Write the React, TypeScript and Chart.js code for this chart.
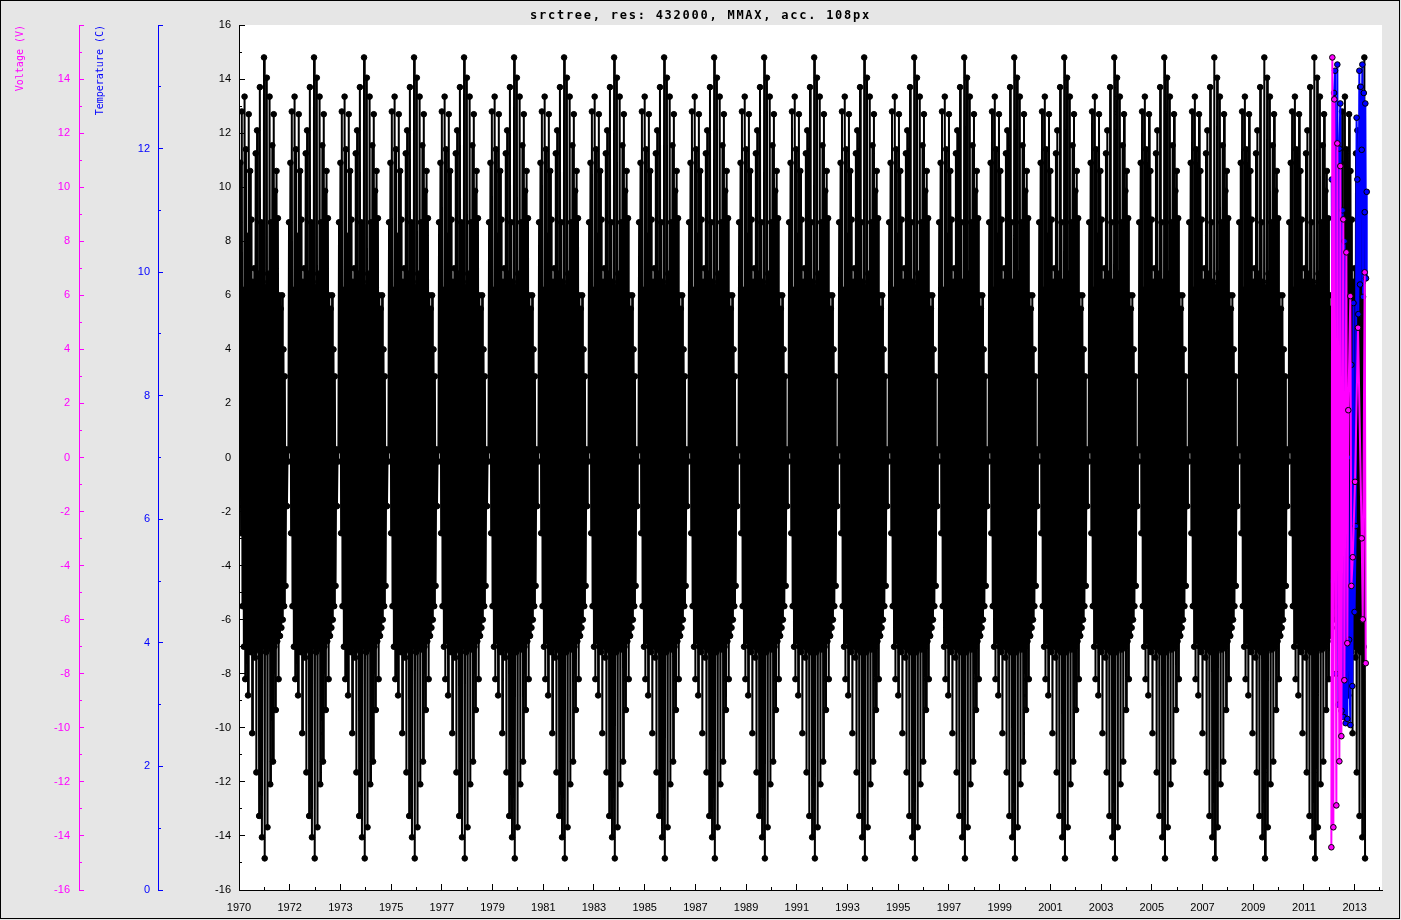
import React, { useEffect, useRef } from 'react';
import { Chart, registerables } from 'chart.js';

Chart.register(...registerables);

// ---------- data ----------
const yearLabels = ['1970', '1972', '1973', '1975', '1977', '1979', '1981', '1983', '1985', '1987', '1989', '1991', '1993', '1995', '1997', '1999', '2001', '2003', '2005', '2007', '2009', '2011', '2013'];
const TICK_DAYS = 730;
const X_MAX_DAYS = 16454;
const SAMPLE_DAYS = 10;
const CYCLE_COUNT = 23;
const LAST_CYCLE_SAMPLES = 38;

// one repeating cycle of the black (main axis) series
const blackCycle = [
  8.7, 0.27, 10.9, -2.8, 12.8, -5.5, 6.2, -7.0, 13.35, -8.2,
  11.4, -6.8, 8.2, -8.8, 12.7, -7.0, 10.6, -7.2, 8.8, -10.2,
  6.5, -7.0, 7.0, -7.4, 11.25, -11.65, 12.1, -7.1, 6.8, -13.26,
  13.7, -7.2, 8.7, -14.05, 6.5, -7.0, 14.8, -14.83, 6.3, -7.2,
  14.05, -13.68, 6.8, -7.0, 13.35, -12.09, 8.7, -7.1, 11.55, -11.25,
  12.7, -7.0, 9.86, -9.34, 10.6, -6.8, 8.85, -8.2, 6.0, -6.6,
  5.5, -6.3, 6.0, -6.0, 4.0, -5.5, 3.0, -4.75, 0.3, -1.8,
  0.28, -0.15,
];

const voltageDays = [15725, 15739, 15754, 15768, 15797, 15811, 15840, 15854, 15869, 15897, 15912, 15941, 15955, 15969, 15998, 16013, 16033, 16066, 16109, 16162, 16177, 16205, 16220];
const voltageValues = [-14.42, 14.8, -13.68, 13.25, -12.87, 11.62, -11.24, 10.78, -10.31, 8.81, -8.24, 7.59, -6.87, 1.75, 5.97, -4.75, -3.69, -0.9, 4.8, -2.99, -5.99, 6.85, -7.61];

const tempDays = [15731, 15749, 15764, 15778, 15792, 15811, 15826, 15840, 15854, 15872, 15886, 15901, 15915, 15930, 15941, 15955, 15968, 15980, 15998, 16013, 16027, 16044, 16059, 16076, 16088, 16099, 16113, 16128, 16138, 16148, 16162, 16171, 16181, 16192, 16205, 16214, 16224, 16234];
const tempValues = [11.5, 5.0, 12.9, 13.26, 3.5, 13.36, 3.0, 12.0, 12.73, 2.9, 11.0, 2.8, 10.5, 2.7, 8.0, 2.77, 7.0, 4.05, 2.67, 8.5, 3.3, 9.5, 4.5, 5.89, 12.5, 11.5, 9.32, 13.26, 9.8, 13.0, 11.98, 13.36, 9.6, 12.9, 10.97, 12.73, 9.9, 11.3];

const TITLE = 'srctree, res: 432000, MMAX, acc. 108px';
const MAGENTA = '#ff00ff';
const BLUE = '#0000ff';
const SANS = "'Liberation Sans', Arial, sans-serif";
const MONO = "'DejaVu Sans Mono', monospace";

const tickSpecs = [
  { id: 'x', step: 365, major: 730, color: '#000', majorLen: 6, minorLen: 3 },
  { id: 'y', step: 1, major: 2, color: '#000', majorLen: 6, minorLen: 3 },
  { id: 'yV', step: 1, major: 2, color: MAGENTA, majorLen: 5, minorLen: 3 },
  { id: 'yT', step: 1, major: 2, color: BLUE, majorLen: 5, minorLen: 3 },
];

const framePlugin = {
  id: 'frame',
  beforeDraw(chart: any) {
    const { ctx, width, height, chartArea } = chart;
    ctx.save();
    ctx.fillStyle = '#e6e6e6';
    ctx.fillRect(0, 0, width, height);
    ctx.fillStyle = '#ffffff';
    ctx.fillRect(chartArea.left, chartArea.top, chartArea.right - chartArea.left, chartArea.bottom - chartArea.top);
    ctx.restore();
  },
  afterDatasetsDraw(chart: any) {
    const { ctx } = chart;
    ctx.save();
    for (const spec of tickSpecs) {
      const scale = chart.scales[spec.id];
      if (!scale) continue;
      ctx.fillStyle = spec.color;
      const eps = 1e-6;
      for (let v = scale.min; v <= scale.max + eps; v += spec.step) {
        const r = ((v - scale.min) % spec.major + spec.major) % spec.major;
        const isMajor = r < eps || spec.major - r < eps;
        const len = isMajor ? spec.majorLen : spec.minorLen;
        const p = scale.getPixelForValue(v);
        if (scale.isHorizontal()) {
          const y0 = Math.floor(scale.top);
          ctx.fillRect(Math.floor(p), y0 - len, 1, len);
        } else {
          const x0 = Math.floor(scale.right);
          ctx.fillRect(x0, Math.min(Math.floor(p), Math.floor(scale.bottom)), len, 1);
        }
      }
    }
    ctx.restore();
  },
  afterDraw(chart: any) {
    const { ctx, width, height } = chart;
    ctx.save();
    ctx.fillStyle = '#000';
    ctx.font = `bold 12px ${MONO}`;
    (ctx as any).letterSpacing = '1.75px';
    ctx.textAlign = 'center';
    ctx.textBaseline = 'alphabetic';
    ctx.fillText(TITLE, width / 2, 19);
    (ctx as any).letterSpacing = '0px';
    ctx.strokeStyle = '#000';
    ctx.lineWidth = 1;
    ctx.strokeRect(0.5, 0.5, width - 2, height - 2);
    ctx.restore();
  },
};

function fixWidth(w: number) {
  return (scale: any) => {
    scale.width = w;
  };
}

export default function App() {
  const ref = useRef<HTMLCanvasElement | null>(null);

  useEffect(() => {
    if (!ref.current) return;
    const blackData: { x: number; y: number }[] = [];
    for (let c = 0; c < CYCLE_COUNT; c++) {
      const n = c === CYCLE_COUNT - 1 ? LAST_CYCLE_SAMPLES : blackCycle.length;
      for (let i = 0; i < n; i++) {
        blackData.push({ x: (c * blackCycle.length + i) * SAMPLE_DAYS, y: blackCycle[i] });
      }
    }
    const voltageData = voltageDays.map((d, i) => ({ x: d, y: voltageValues[i] }));
    const tempData = tempDays.map((d, i) => ({ x: d, y: tempValues[i] }));

    const chart = new Chart(ref.current, {
      type: 'line',
      data: {
        datasets: [
          {
            label: 'Voltage (V)',
            data: voltageData,
            yAxisID: 'yV',
            borderColor: MAGENTA,
            backgroundColor: MAGENTA,
            borderWidth: 2,
            pointRadius: 2.8,
            pointBackgroundColor: MAGENTA,
            pointBorderColor: '#000',
            pointBorderWidth: 1,
            tension: 0,
          },
          {
            label: 'Temperature (C)',
            data: tempData,
            yAxisID: 'yT',
            borderColor: BLUE,
            backgroundColor: BLUE,
            borderWidth: 2,
            pointRadius: 2.8,
            pointBackgroundColor: BLUE,
            pointBorderColor: '#000',
            pointBorderWidth: 1,
            tension: 0,
          },
          {
            label: 'srctree',
            data: blackData,
            yAxisID: 'y',
            borderColor: '#000',
            backgroundColor: '#000',
            borderWidth: 2,
            pointRadius: 2.8,
            pointBackgroundColor: '#000',
            pointBorderColor: '#000',
            pointBorderWidth: 1,
            tension: 0,
          },
        ],
      },
      options: {
        responsive: false,
        animation: false,
        devicePixelRatio: 1,
        events: [],
        layout: { padding: { left: 0, top: 25, right: 19, bottom: 0 } },
        plugins: {
          legend: { display: false },
          title: { display: false },
          tooltip: { enabled: false },
        },
        scales: {
          x: {
            type: 'linear',
            position: 'bottom',
            min: 0,
            max: X_MAX_DAYS,
            grid: { display: true, drawOnChartArea: false, drawTicks: false, color: 'rgba(0,0,0,0)' },
            border: { display: true, color: '#000', width: 1 },
            afterBuildTicks: (scale: any) => {
              scale.ticks = yearLabels.map((_, i) => ({ value: i * TICK_DAYS }));
            },
            ticks: {
              autoSkip: false,
              maxRotation: 0,
              minRotation: 0,
              padding: 11,
              color: '#000',
              font: { family: SANS, size: 11 },
              callback: (value: any) => {
                const i = Math.round(Number(value) / TICK_DAYS);
                return yearLabels[i] ?? '';
              },
            },
            afterFit: (scale: any) => {
              scale.height = 30;
            },
          },
          y: {
            type: 'linear',
            position: 'left',
            weight: 0,
            min: -16,
            max: 16,
            grid: { display: true, drawOnChartArea: false, drawTicks: false, color: 'rgba(0,0,0,0)' },
            border: { display: true, color: '#000', width: 1 },
            ticks: {
              stepSize: 2,
              padding: 8,
              color: '#000',
              font: { family: SANS, size: 11 },
              callback: (value: any) => String(value),
            },
            afterFit: fixWidth(81),
          },
          yT: {
            type: 'linear',
            position: 'left',
            weight: 1,
            min: 0,
            max: 14,
            grid: { display: true, drawOnChartArea: false, drawTicks: false, color: 'rgba(0,0,0,0)' },
            border: { display: true, color: BLUE, width: 1 },
            title: {
              display: true,
              text: 'Temperature (C)',
              color: BLUE,
              align: 'end',
              font: { family: MONO, size: 10, lineHeight: 1.2 },
              padding: { top: 15, bottom: 0 },
            },
            ticks: {
              stepSize: 2,
              padding: 8,
              color: BLUE,
              font: { family: SANS, size: 11 },
              callback: (value: any) => (Number(value) === 14 ? '' : String(value)),
            },
            afterFit: fixWidth(79),
          },
          yV: {
            type: 'linear',
            position: 'left',
            weight: 2,
            min: -16,
            max: 16,
            grid: { display: true, drawOnChartArea: false, drawTicks: false, color: 'rgba(0,0,0,0)' },
            border: { display: true, color: MAGENTA, width: 1 },
            title: {
              display: true,
              text: 'Voltage (V)',
              color: MAGENTA,
              align: 'end',
              font: { family: MONO, size: 10, lineHeight: 1.2 },
              padding: { top: 14, bottom: 0 },
            },
            ticks: {
              stepSize: 2,
              padding: 9,
              color: MAGENTA,
              font: { family: SANS, size: 11 },
              callback: (value: any) => (Number(value) === 16 ? '' : String(value)),
            },
            afterFit: fixWidth(79),
          },
        },
      } as any,
      plugins: [framePlugin],
    });
    return () => chart.destroy();
  }, []);

  return (
    <div style={{ position: 'fixed', left: 0, top: 0, width: 1401, height: 920 }}>
      <canvas ref={ref} width={1401} height={920} style={{ display: 'block' }} />
    </div>
  );
}
